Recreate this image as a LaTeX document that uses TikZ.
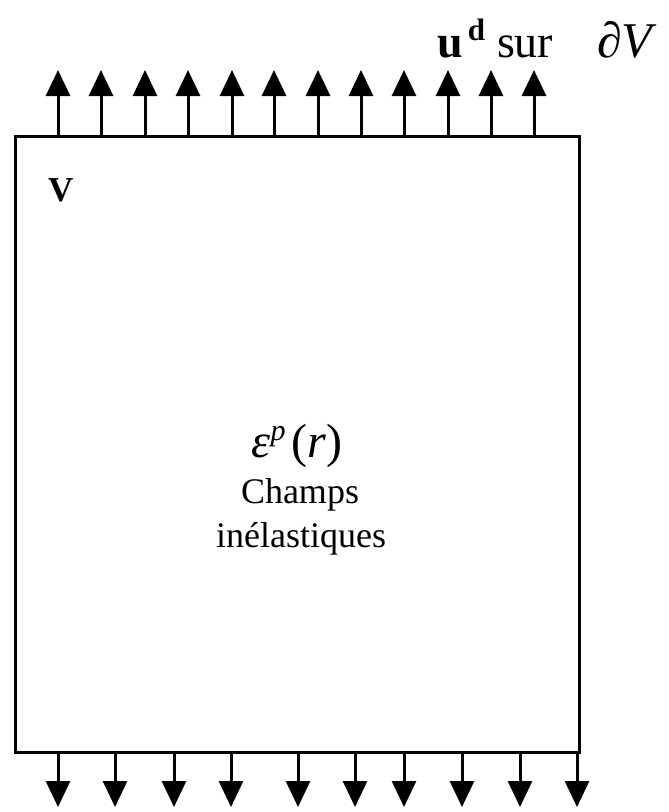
\documentclass[tikz,border=0pt]{standalone}
\usepackage{fontspec}
\setmainfont{Liberation Serif}
\usetikzlibrary{arrows.meta}
\begin{document}
\begin{tikzpicture}[x=1pt,y=1pt,
  edge/.style={line width=3pt},
  loadarrow/.style={line width=3pt,-{Triangle[width=24pt,length=26pt]}},
  lbl/.style={inner sep=0pt,anchor=base}]
\useasboundingbox (0,0) rectangle (669,-812);
\node[draw,line width=3pt,minimum width=564pt,minimum height=616pt,inner sep=0pt] (box) at (297,-444) {};
% top arrows
\foreach \i/\x in {1/58,2/101,3/145,4/188,5/232,6/274,7/318,8/361,9/404,10/448,11/491,12/534}{
  \coordinate (ts\i) at (\x,-136);
  \coordinate (te\i) at (\x,-70);
  \draw[loadarrow] (ts\i) -- (te\i);
}
% bottom arrows
\foreach \i/\x in {1/58,2/115,3/174,4/231,5/298,6/355,7/404,8/462,9/520,10/577}{
  \coordinate (bs\i) at (\x,-752);
  \coordinate (be\i) at (\x,-807);
  \draw[loadarrow] (bs\i) -- (be\i);
}
\node[lbl,anchor=base west] (ud) at (437,-57) {\fontsize{46}{46}\selectfont\textbf{u}\hspace{5pt}\raisebox{17pt}{\fontsize{31}{31}\selectfont\textbf{d}}\hspace{12pt}sur};
\node[lbl,anchor=base west] (dv) at (597,-57) {\fontsize{50}{50}\selectfont ∂\textit{V}};
\node[lbl,anchor=base west] (vlab) at (48,-201) {\fontsize{35}{35}\selectfont\textbf{V}};
\node[lbl] (eps) at (297,-457) {\fontsize{48}{48}\selectfont\textit{ε}\raisebox{17pt}{\fontsize{30}{30}\selectfont\textit{p}}\hspace{6pt}(\textit{r})};
\node[lbl] (champs) at (300,-503) {\fontsize{36}{36}\selectfont Champs};
\node[lbl] (inel) at (301,-547) {\fontsize{36}{36}\selectfont inélastiques};
\end{tikzpicture}
\end{document}
